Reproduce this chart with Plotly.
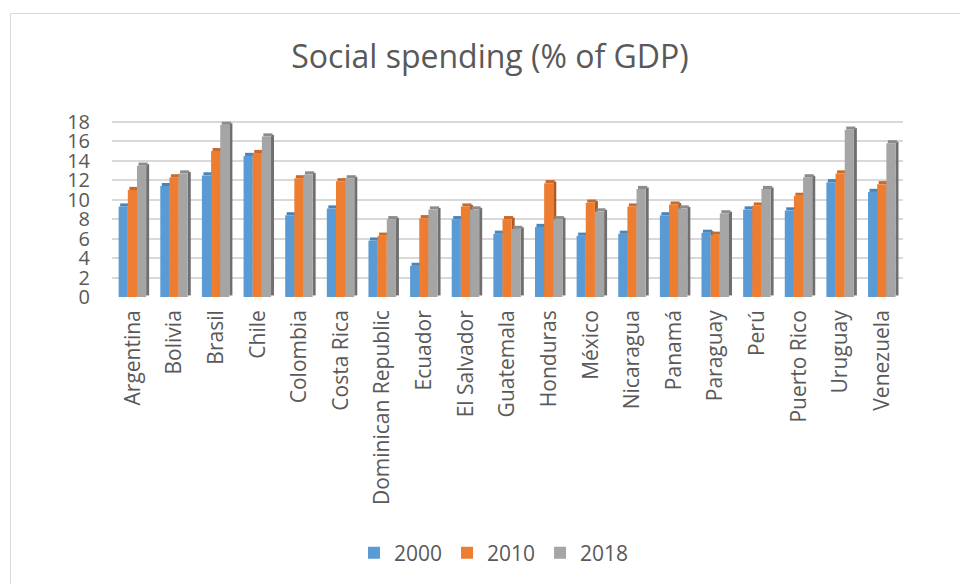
import plotly.graph_objects as go

# Social spending as a share of GDP, by country and year
countries = ["Argentina", "Bolivia", "Brasil", "Chile", "Colombia", "Costa Rica",
             "Dominican Republic", "Ecuador", "El Salvador", "Guatemala", "Honduras",
             "México", "Nicaragua", "Panamá", "Paraguay", "Perú", "Puerto Rico",
             "Uruguay", "Venezuela"]
spend_2000 = [9.3, 11.4, 12.5, 14.5, 8.4, 9.1, 5.8, 3.2, 8.0, 6.5, 7.2,
              6.3, 6.5, 8.4, 6.6, 9.0, 8.9, 11.8, 10.8]
spend_2010 = [11.0, 12.3, 15.0, 14.8, 12.2, 11.9, 6.3, 8.1, 9.3, 8.0, 11.7,
              9.7, 9.3, 9.5, 6.4, 9.4, 10.4, 12.7, 11.6]
spend_2018 = [13.5, 12.7, 17.7, 16.5, 12.6, 12.2, 8.0, 9.0, 9.0, 7.0, 8.0,
              8.8, 11.1, 9.1, 8.6, 11.1, 12.3, 17.2, 15.8]
y_ticks = [0, 2, 4, 6, 8, 10, 12, 14, 16, 18]

series = [
    ("2000", spend_2000, "#5B9BD5", "#41719C", "#4A84B8"),
    ("2010", spend_2010, "#ED7D31", "#AE5A21", "#C9692A"),
    ("2018", spend_2018, "#A5A5A5", "#6F6F6F", "#8C8C8C"),
]

W, H = 960, 584
ML, MR, MT, MB = 112, 57, 118, 287
TEXT = "#595959"
FONT = "Open Sans"

bar_w = 0.22       # front face width (category units)
depth_x = 0.072    # horizontal depth of the side face
depth_y = 0.32     # vertical depth of the top face
start = -0.34

x_idx = list(range(len(countries)))
fig = go.Figure()

for k, (name, vals, front, side, top) in enumerate(series):
    off = start + k * bar_w
    # right-hand side face
    fig.add_trace(go.Bar(
        x=x_idx, y=vals, base=depth_y * 0.5,
        offset=off + bar_w, width=depth_x,
        marker=dict(color=side, line=dict(width=0)),
        showlegend=False, hoverinfo="skip"))
    # top face
    fig.add_trace(go.Bar(
        x=x_idx, y=[depth_y] * len(vals), base=vals,
        offset=off + depth_x * 0.5, width=bar_w,
        marker=dict(color=top, line=dict(width=0)),
        showlegend=False, hoverinfo="skip"))
    # front face
    fig.add_trace(go.Bar(
        x=x_idx, y=vals, name=name,
        offset=off, width=bar_w,
        marker=dict(color=front, line=dict(width=0)),
        hoverinfo="x+y+name"))

pw = W - ML - MR
ph = H - MT - MB

def px_to_paper_x(px):
    return (px - ML) / pw

def px_to_paper_y(py):
    return (H - MB - py) / ph

fig.update_layout(
    width=W, height=H,
    margin=dict(l=ML, r=MR, t=MT, b=MB, autoexpand=False),
    paper_bgcolor="white", plot_bgcolor="white",
    barmode="overlay",
    font=dict(family=FONT, color=TEXT, size=18),
    title=dict(text="Social spending (% of GDP)", x=490 / W,
               xref="container", y=1 - 57 / H, yref="container",
               xanchor="center", yanchor="middle",
               font=dict(family=FONT, size=32, color=TEXT)),
    xaxis=dict(range=[-0.5, len(countries) - 0.5], tickmode="array",
               tickvals=x_idx, ticktext=countries, tickangle=-90,
               showgrid=False, zeroline=False, showline=False, ticks="",
               ticklabelstandoff=8,
               tickfont=dict(size=21, family=FONT, color=TEXT)),
    yaxis=dict(range=[0, 18.4], tickmode="array", tickvals=y_ticks,
               showgrid=True, gridcolor="#D9D9D9", gridwidth=1.5,
               zeroline=False, showline=False, ticks="",
               ticklabelstandoff=21,
               tickfont=dict(size=20, family=FONT, color=TEXT)),
    legend=dict(orientation="h", x=px_to_paper_x(494), xanchor="center",
                y=px_to_paper_y(553), yanchor="middle",
                font=dict(size=21, family=FONT, color=TEXT),
                traceorder="normal", itemwidth=30),
    shapes=[dict(type="rect", xref="paper", yref="paper",
                 x0=px_to_paper_x(10.5), x1=px_to_paper_x(990),
                 y0=px_to_paper_y(620), y1=px_to_paper_y(13.5),
                 line=dict(color="#D9D9D9", width=1), fillcolor="rgba(0,0,0,0)",
                 layer="below")],
)

fig.write_html("out.html")
